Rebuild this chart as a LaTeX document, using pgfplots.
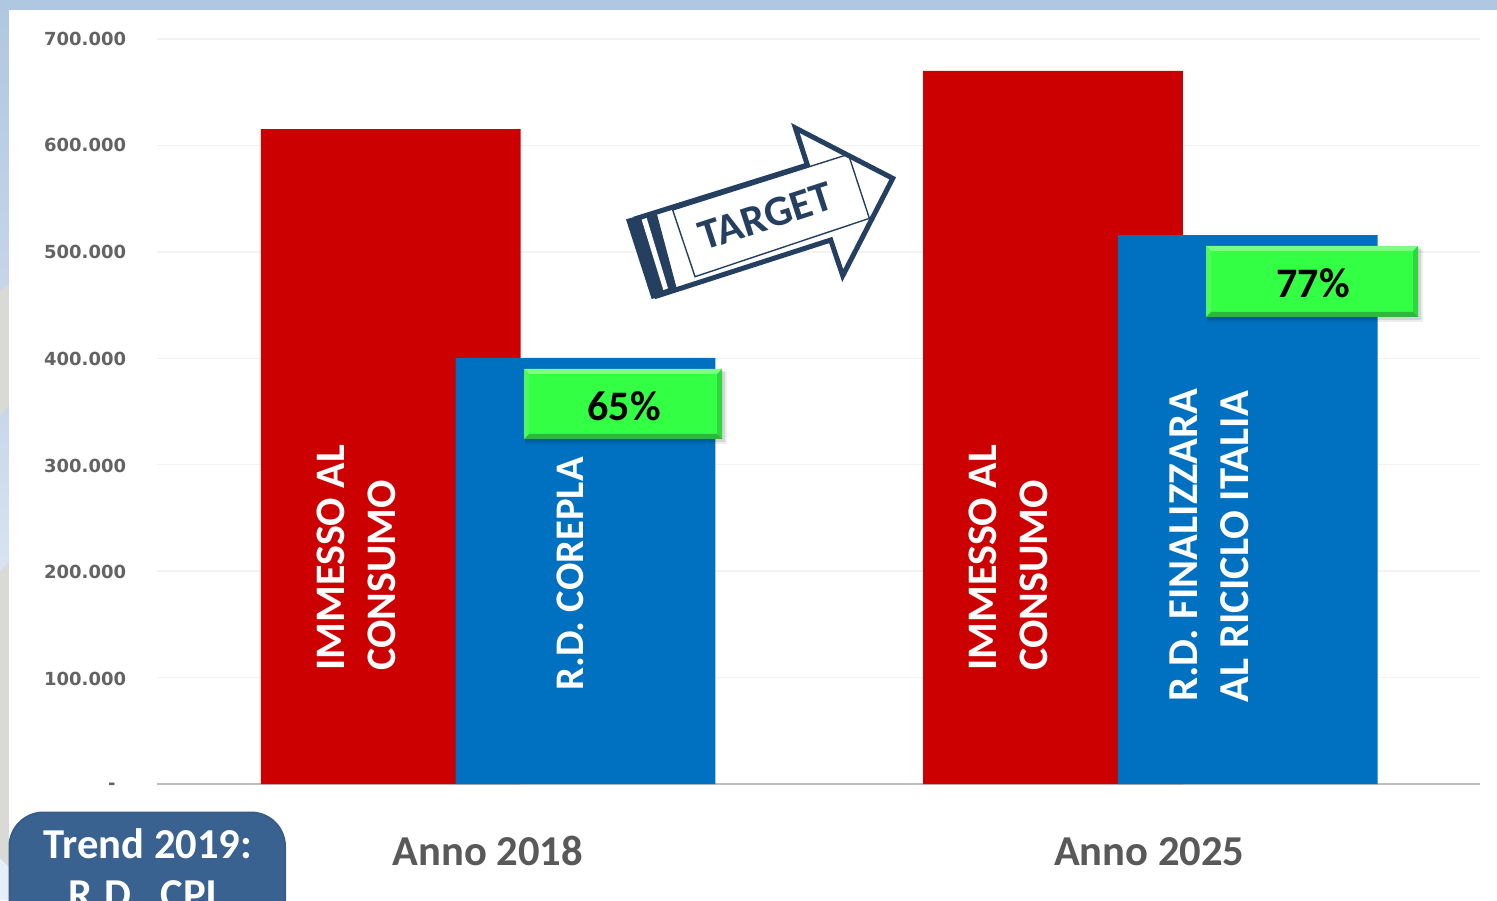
\documentclass[border=0pt]{standalone}
\usepackage{pgfplots}
\pgfplotsset{compat=1.18}
\usepackage{fontspec}
\setmainfont{Carlito}
\newfontfamily\tickfont{DejaVu Sans}
\usetikzlibrary{calc}

\definecolor{barred}{HTML}{CC0000}
\definecolor{barblue}{HTML}{0070C0}
\definecolor{gridc}{HTML}{F3F3F3}
\definecolor{axisc}{HTML}{BFBFBF}
\definecolor{txtgray}{HTML}{595959}
\definecolor{tickgray}{HTML}{636363}
\definecolor{navy}{HTML}{243F60}
\definecolor{boxblue}{HTML}{3A6291}
\definecolor{boxedge}{HTML}{375C88}
\definecolor{stripblue}{HTML}{B0C7E1}
\definecolor{stripgray}{HTML}{D9D9D6}
\definecolor{striplight}{HTML}{C6D6EA}
\definecolor{stripwhite}{HTML}{E6EEF7}
\definecolor{gmid}{HTML}{33FF44}
\definecolor{gtop}{HTML}{7DFF82}
\definecolor{gleft}{HTML}{50F85C}
\definecolor{gright}{HTML}{2CD83C}
\definecolor{gbot}{HTML}{2DB83D}

% green label with bevelled edges, corners in pixels
\newcommand{\badge}[5]{%
  \fill[black,opacity=.07] (#1+1,#2+3) rectangle (#3+5,#4+5);
  \fill[black,opacity=.10] (#1+1,#2+2) rectangle (#3+3,#4+3);
  \fill[gmid] (#1,#2) rectangle (#3,#4);
  \fill[gtop] (#1,#2) -- (#3,#2) -- (#3-5,#2+5) -- (#1+5,#2+5) -- cycle;
  \fill[gleft] (#1,#2) -- (#1+5,#2+5) -- (#1+5,#4-5) -- (#1,#4) -- cycle;
  \fill[gright] (#3,#2) -- (#3-5,#2+5) -- (#3-5,#4-5) -- (#3,#4) -- cycle;
  \fill[gbot] (#1,#4) -- (#1+5,#4-5) -- (#3-5,#4-5) -- (#3,#4) -- cycle;
  \node[font=\bfseries\fontsize{21}{21}\selectfont,text=black] at ({(#1+#3)/2+1},{(#2+#4)/2+2}) {#5};
}

\begin{document}
\begin{tikzpicture}
\path[use as bounding box] (0,0) rectangle (748.5pt,450pt);
\clip (0,0) rectangle (748.5pt,450pt);

% slide background, pixel coordinates
\begin{scope}[x=0.5pt,y=-0.5pt,yshift=450pt]
  \fill[stripblue] (0,0) rectangle (1497,900);
  \fill[top color=stripblue,bottom color=striplight] (0,0) rectangle (9,300);
  \fill[top color=striplight,bottom color=stripwhite!60!striplight] (0,400) rectangle (9,580);
  \fill[stripgray] (0,290) -- (9,285) -- (9,404) -- (0,417) -- cycle;
  \fill[stripgray] (0,572) -- (9,562) -- (9,867) -- (0,858) -- cycle;
  \fill[stripwhite] (0,858) -- (9,867) -- (9,900) -- (0,900) -- cycle;
  \fill[white] (9,10) rectangle (1497,900);
\end{scope}

\begin{axis}[
    at={(78.5pt,58pt)},
    anchor=south west,
    scale only axis,
    width=661.5pt,
    height=372.5pt,
    xmin=-0.5, xmax=1.5,
    ymin=0, ymax=700000,
    axis x line*=bottom,
    axis y line*=left,
    y axis line style={draw=none},
    x axis line style={axisc,line width=1.2pt,-},
    ymajorgrids,
    grid style={gridc,line width=0.7pt},
    scaled y ticks=false,
    ytick={0,100000,200000,300000,400000,500000,600000,700000},
    yticklabels={},
    xtick={0,1},
    xticklabels={Anno 2018,Anno 2025},
    major tick length=0pt,
    xticklabel style={font=\bfseries\fontsize{21.3}{21.3}\selectfont,text=txtgray,
      text height=14pt,text depth=0pt,yshift=-23pt},
    ybar,
    bar width=0.3927,
    clip=false,
]
\addplot[draw=none,fill=barred,bar shift=-0.1465] coordinates {(0,615400) (1.001,670000)};
\addplot[draw=none,fill=barblue,bar shift=0.1478] coordinates {(0,400300) (1.001,515800)};
\end{axis}

% tick labels and annotations, pixel coordinates
\begin{scope}[x=0.5pt,y=-0.5pt,yshift=450pt]
  \foreach \yy/\lab in {38.5/700.000,144.5/600.000,251.5/500.000,358.5/400.000,465.5/300.000,571.5/200.000,678.5/100.000}
    \node[anchor=east,font=\tickfont\bfseries\fontsize{9}{9}\selectfont,text=tickgray,inner sep=0] at (126.5,\yy) {\lab};
  \node[anchor=east,font=\tickfont\bfseries\fontsize{9}{9}\selectfont,text=tickgray,inner sep=0] at (116,786) {-};

  \tikzset{vt/.style={rotate=90,anchor=base west,inner sep=0,text=white,font=\bfseries\fontsize{21}{21}\selectfont},
           vtl/.style={vt,font=\bfseries\fontsize{21.3}{21.3}\selectfont}}
  \node[vt] at (344,671) {IMMESSO AL};
  \node[vt] at (395,671) {CONSUMO};
  \node[vt,font=\bfseries\fontsize{20.3}{20.3}\selectfont] at (583.5,691) {R.D. COREPLA};
  \node[vt] at (996,671) {IMMESSO AL};
  \node[vt] at (1047,671) {CONSUMO};
  \node[vtl] at (1197,702) {R.D. FINALIZZARA};
  \node[vtl] at (1248,702.5) {AL RICICLO ITALIA};

  \badge{524}{369}{722}{439}{65\%}
  \badge{1206}{246}{1418}{317}{77\%}

  \fill[boxblue,draw=boxedge,line width=1pt,rounded corners=17pt] (9.5,812.5) rectangle (285,960);
  \node[font=\bfseries\fontsize{21.3}{21.3}\selectfont,text=white,anchor=base] at (148,858) {Trend 2019:};
  \node[font=\bfseries\fontsize{21.3}{21.3}\selectfont,text=white,anchor=base] at (146.5,908) {R.D.\ \ CPL};
\end{scope}

% target arrow, in units of a third of a pixel
\begin{scope}[x=0.1667pt,y=-0.1667pt,xshift=300pt,yshift=400pt]
  \draw[navy,fill=white,line width=2.5pt,miter limit=10,line join=miter]
    (110,355) -- (622,195) -- (586,84) -- (878,235) -- (728,527) -- (692,420) -- (170,588) -- cycle;
  \fill[navy] (78,358) -- (155,597) -- (232,572) -- (168,332) -- cycle;
  \fill[white] (125,359) -- (140,354) -- (204,565) -- (190,570) -- cycle;
  \draw[navy,line width=0.7pt] (218,330) -- (285,530) -- (808,355) -- (745,163) -- cycle;
  \node[rotate=18,font=\bfseries\fontsize{21.5}{21.5}\selectfont,text=navy,inner sep=0] at (497,349) {TARGET};
\end{scope}
\end{tikzpicture}
\end{document}
